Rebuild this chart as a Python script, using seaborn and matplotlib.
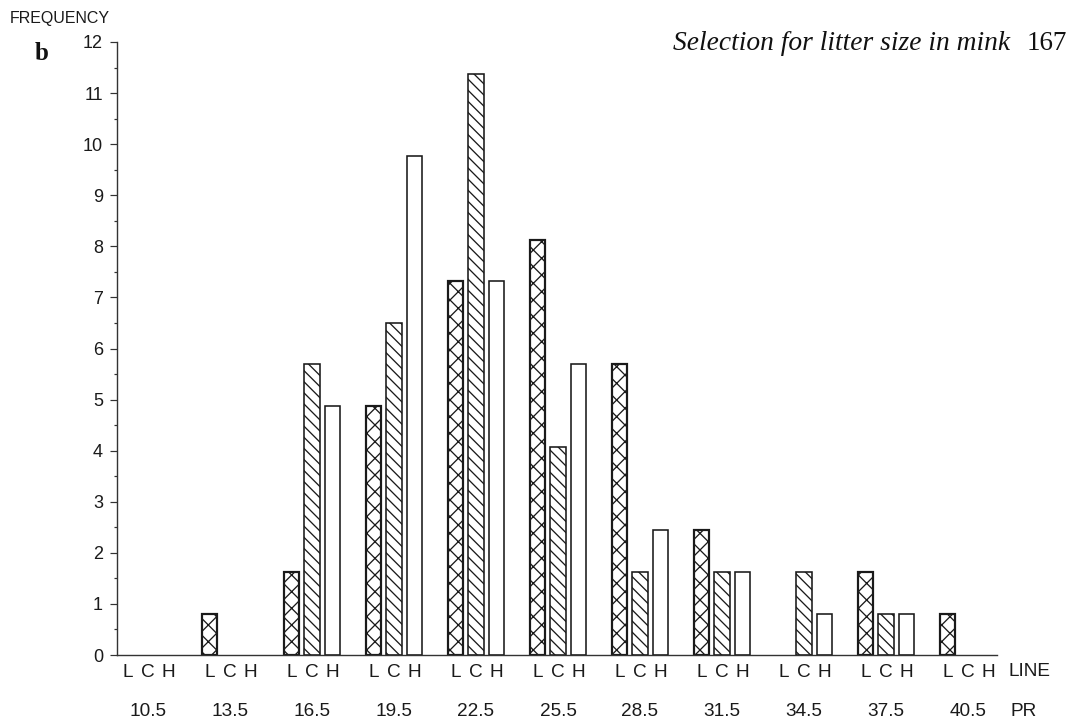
import matplotlib
matplotlib.use("Agg")
import matplotlib.pyplot as plt
from matplotlib import font_manager
import numpy as np
import pandas as pd
import seaborn as sns

# Frequency (%) of litter-size classes for the three selection lines
pr_classes = ["10.5", "13.5", "16.5", "19.5", "22.5", "25.5", "28.5", "31.5", "34.5", "37.5", "40.5"]
lines = ["L", "C", "H"]
freq_L = [0, 0.81, 1.63, 4.88, 7.32, 8.13, 5.69, 2.44, 0, 1.63, 0.81]
freq_C = [0, 0, 5.69, 6.50, 11.38, 4.07, 1.63, 1.63, 1.63, 0.81, 0]
freq_H = [0, 0, 4.88, 9.76, 7.32, 5.69, 2.44, 1.63, 0.81, 0.81, 0]
y_ticks = list(range(0, 13))

DPI = 200
PX = 72.0 / DPI  # points per pixel


def first_font(names):
    have = {f.name for f in font_manager.fontManager.ttflist}
    for n in names:
        if n in have:
            return n
    return "DejaVu Sans"


sans = first_font(["Liberation Sans Narrow", "Liberation Sans", "DejaVu Sans"])
serif = first_font(["Liberation Serif", "DejaVu Serif"])

sns.set_theme(style="white")
plt.rcParams["font.family"] = [sans]
plt.rcParams["hatch.linewidth"] = 1.3 * PX
plt.rcParams["hatch.color"] = "#1a1a1a"

df = pd.DataFrame({
    "pr": pr_classes * 3,
    "line": [l for l in lines for _ in pr_classes],
    "freq": freq_L + freq_C + freq_H,
})

fig = plt.figure(figsize=(1072 / DPI, 720 / DPI), dpi=DPI, facecolor="white")
ax = fig.add_axes([117 / 1072, 65 / 720, 880 / 1072, 613 / 720])

sns.barplot(data=df, x="pr", y="freq", hue="line", order=pr_classes, hue_order=lines,
            palette={"L": "white", "C": "white", "H": "white"}, saturation=1,
            width=0.75, gap=0.245, edgecolor="#1a1a1a", linewidth=1.6 * PX,
            legend=False, ax=ax)

hatches = {"L": "xxxx", "C": "\\" * 6, "H": ""}
for cont, ln in zip(ax.containers, lines):
    for bar in cont:
        bar.set_hatch(hatches[ln])
        if ln == "L":
            bar.set_linewidth(2.2 * PX)
        if bar.get_height() == 0:
            bar.set_visible(False)

ax.set_xlim(-0.378, 10.354)
ax.set_ylim(0, 12)
ax.set_xlabel("")
ax.set_ylabel("")

for s in ["top", "right"]:
    ax.spines[s].set_visible(False)
for s in ["left", "bottom"]:
    ax.spines[s].set_color("#333333")
    ax.spines[s].set_linewidth(1.4 * PX)

# y axis: integer ticks with half-unit minor ticks
ax.set_yticks(y_ticks)
ax.set_yticklabels([str(v) for v in y_ticks])
ax.set_yticks(np.arange(0.5, 12, 1.0), minor=True)
ax.tick_params(axis="y", which="major", direction="out", length=7 * PX, width=1.2 * PX,
               color="#333333", pad=7 * PX, labelsize=18 * PX, labelcolor="#1a1a1a", left=True)
ax.tick_params(axis="y", which="minor", direction="out", length=3.5 * PX, width=1.2 * PX,
               color="#333333", left=True)

# x axis: a line letter under every bar, class values on a second row
offsets = [-0.25, 0.0, 0.25]
bar_pos = [i + o for i in range(len(pr_classes)) for o in offsets]
ax.set_xticks(bar_pos)
ax.set_xticklabels(lines * len(pr_classes))
ax.tick_params(axis="x", which="both", length=0, pad=9 * PX, labelsize=19 * PX,
               labelcolor="#1a1a1a", bottom=True)

sec = ax.secondary_xaxis("bottom")
sec.set_xticks(range(len(pr_classes)))
sec.set_xticklabels(pr_classes)
sec.tick_params(length=0, pad=48 * PX, labelsize=19 * PX, labelcolor="#1a1a1a")
sec.spines["bottom"].set_visible(False)

ax.text(1008, 720 - 671, "LINE", transform=None, ha="left", va="center",
        fontsize=19 * PX, color="#1a1a1a")
ax.text(1010, 720 - 712, "PR", transform=None, ha="left", va="center",
        fontsize=19 * PX, color="#1a1a1a")

fig.text(10 / 1072, 1 - 18 / 720, "FREQUENCY", ha="left", va="center",
         fontsize=16 * PX, color="#1a1a1a")
fig.text(35 / 1072, 1 - 60 / 720, "b", ha="left", va="baseline",
         fontsize=25 * PX, fontweight="bold", family=serif, color="#111111")
fig.text(673 / 1072, 1 - 50 / 720, "Selection for litter size in mink", ha="left",
         va="baseline", fontsize=27.6 * PX, style="italic", family=serif, color="#111111")
fig.text(1027 / 1072, 1 - 50 / 720, "167", ha="left", va="baseline",
         fontsize=27 * PX, family=serif, color="#111111")

fig.savefig("out.png", dpi=DPI, facecolor="white")
